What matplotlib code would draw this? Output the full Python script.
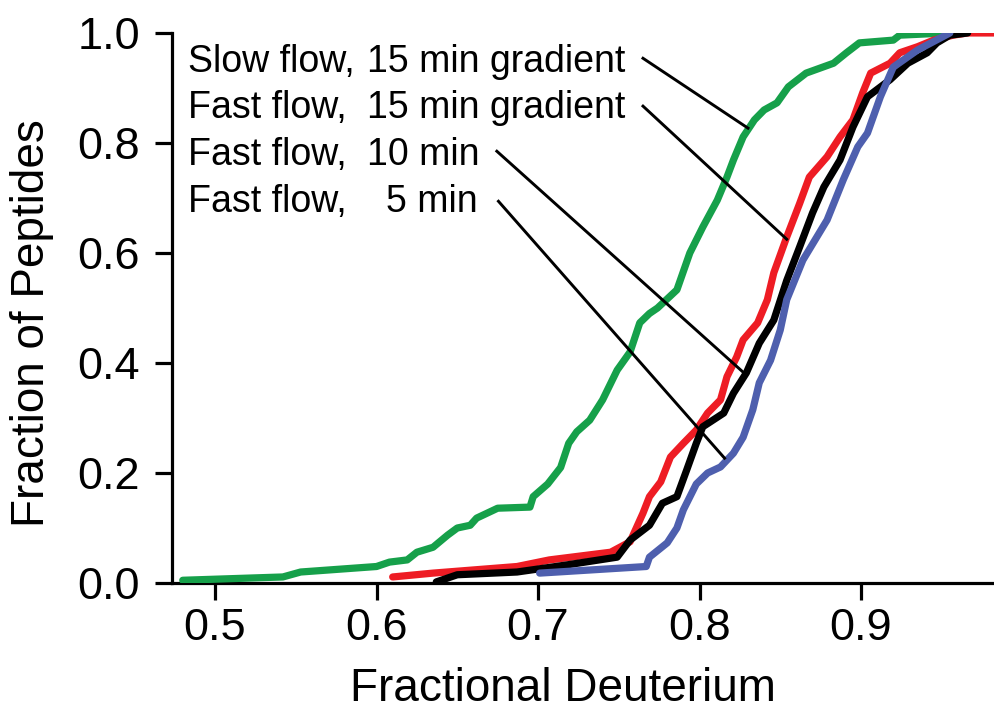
"""
Cumulative distribution of fractional deuterium for the four LC conditions
"""
import numpy as np
import matplotlib
matplotlib.use("Agg")
import matplotlib.pyplot as plt

plt.rcParams['font.family'] = ['Liberation Sans', 'DejaVu Sans']

# slow flow, 15 min gradient (green)
slow15_x = [0.480, 0.542, 0.553, 0.600, 0.608, 0.619, 0.625, 0.635, 0.644, 0.650, 0.658,
            0.662, 0.675, 0.695, 0.697, 0.706, 0.714, 0.719, 0.724, 0.732, 0.740, 0.749,
            0.757, 0.763, 0.769, 0.774, 0.786, 0.794, 0.802, 0.811, 0.817, 0.821, 0.827,
            0.834, 0.840, 0.848, 0.855, 0.866, 0.883, 0.891, 0.899, 0.920, 0.924, 0.953]
slow15_y = [0.005, 0.011, 0.020, 0.030, 0.038, 0.042, 0.056, 0.065, 0.087, 0.100, 0.105,
            0.118, 0.136, 0.138, 0.157, 0.180, 0.210, 0.254, 0.275, 0.296, 0.333, 0.387,
            0.420, 0.473, 0.490, 0.500, 0.533, 0.600, 0.647, 0.696, 0.738, 0.769, 0.811,
            0.842, 0.860, 0.873, 0.902, 0.927, 0.945, 0.964, 0.982, 0.987, 0.996, 1.000]

# fast flow, 15 min gradient (red)
fast15_x = [0.610, 0.635, 0.687, 0.707, 0.745, 0.757, 0.765, 0.769, 0.776, 0.782, 0.790,
            0.798, 0.805, 0.813, 0.817, 0.823, 0.827, 0.836, 0.842, 0.846, 0.854, 0.862,
            0.868, 0.879, 0.887, 0.895, 0.901, 0.906, 0.918, 0.924, 0.935, 0.945, 0.957,
            0.966, 0.985]
fast15_y = [0.011, 0.018, 0.030, 0.042, 0.056, 0.075, 0.127, 0.157, 0.184, 0.229, 0.254,
            0.278, 0.309, 0.333, 0.375, 0.411, 0.442, 0.473, 0.515, 0.564, 0.629, 0.690,
            0.738, 0.775, 0.811, 0.842, 0.891, 0.927, 0.945, 0.964, 0.975, 0.987, 0.996,
            1.000, 1.000]

# fast flow, 10 min (black)
fast10_x = [0.637, 0.650, 0.687, 0.718, 0.749, 0.757, 0.769, 0.777, 0.786, 0.792, 0.798,
            0.802, 0.815, 0.821, 0.829, 0.837, 0.846, 0.854, 0.862, 0.870, 0.877, 0.887,
            0.895, 0.904, 0.918, 0.929, 0.941, 0.947, 0.955, 0.966]
fast10_y = [0.002, 0.015, 0.020, 0.033, 0.047, 0.078, 0.105, 0.145, 0.157, 0.205, 0.254,
            0.284, 0.309, 0.345, 0.382, 0.436, 0.478, 0.550, 0.611, 0.673, 0.720, 0.769,
            0.829, 0.884, 0.915, 0.945, 0.964, 0.982, 0.996, 1.000]

# fast flow, 5 min (blue)
fast5_x = [0.701, 0.767, 0.769, 0.780, 0.786, 0.790, 0.798, 0.805, 0.813, 0.821, 0.827,
           0.833, 0.837, 0.844, 0.850, 0.854, 0.864, 0.879, 0.889, 0.898, 0.904, 0.912,
           0.920, 0.935, 0.955]
fast5_y = [0.018, 0.030, 0.047, 0.073, 0.100, 0.133, 0.180, 0.200, 0.211, 0.236, 0.265,
           0.315, 0.364, 0.405, 0.460, 0.515, 0.587, 0.660, 0.733, 0.793, 0.818, 0.884,
           0.938, 0.969, 1.000]

x_ticks = [0.5, 0.6, 0.7, 0.8, 0.9]
y_ticks = [0.0, 0.2, 0.4, 0.6, 0.8, 1.0]

# label text: first column, second column
label_left = ["Slow flow,", "Fast flow,", "Fast flow,", "Fast flow,"]
label_right = ["15 min gradient", "15 min gradient", "10 min", "5 min"]
label_y = [0.929, 0.845, 0.760, 0.6745]

# leader lines (from text to curve)
leader_start = [(0.765, 0.954), (0.765, 0.867), (0.6745, 0.785), (0.6755, 0.694)]
leader_end = [(0.830, 0.827), (0.854, 0.625), (0.8275, 0.382), (0.8155, 0.227)]


def plot_cdf():
    fig = plt.figure(figsize=(9.95, 7.09), dpi=100)
    ax = fig.add_axes([0.1729, 0.1777, 0.8271, 0.7758])

    lw = 5.2
    ax.plot(slow15_x, slow15_y, color="#16a04a", lw=lw, solid_capstyle="round", zorder=3)
    ax.plot(fast15_x, fast15_y, color="#ee1c24", lw=lw, solid_capstyle="round", zorder=3)
    ax.plot(fast10_x, fast10_y, color="#000000", lw=lw, solid_capstyle="round", zorder=4)
    ax.plot(fast5_x, fast5_y, color="#4e5fae", lw=lw, solid_capstyle="round", zorder=5)

    # leader lines
    for (x0, y0), (x1, y1) in zip(leader_start, leader_end):
        ax.plot([x0, x1], [y0, y1], color="black", lw=2.1, zorder=6)

    # labels, second column aligned like a tab stop
    for i in range(len(label_left)):
        ax.text(0.4833, label_y[i], label_left[i], fontsize=27, va="baseline", ha="left")
        if label_right[i] == "5 min":
            ax.text(0.6628, label_y[i], label_right[i], fontsize=27, va="baseline", ha="right")
        else:
            ax.text(0.5941, label_y[i], label_right[i], fontsize=27, va="baseline", ha="left")

    ax.set_xlim(0.47337, 0.98297)
    ax.set_ylim(0.0, 1.0)
    ax.set_xticks(x_ticks)
    ax.set_xticklabels([f"{v:.1f}" for v in x_ticks])
    ax.set_yticks(y_ticks)
    ax.set_yticklabels([f"{v:.1f}" for v in y_ticks])

    for side in ["top", "right"]:
        ax.spines[side].set_visible(False)
    for side in ["left", "bottom"]:
        ax.spines[side].set_linewidth(2.3)
    ax.tick_params(axis="both", direction="out", length=12, width=2.3, labelsize=32.5)
    ax.tick_params(axis="x", pad=6)
    ax.tick_params(axis="y", pad=11)

    ax.set_xlabel("Fractional Deuterium", fontsize=33, va="baseline")
    ax.xaxis.set_label_coords(0.475, -0.214)
    ax.set_ylabel("Fraction of Peptides", fontsize=33, va="center")
    ax.yaxis.set_label_coords(-0.170, 0.473)

    fig.savefig("out.png", dpi=100)


plot_cdf()
